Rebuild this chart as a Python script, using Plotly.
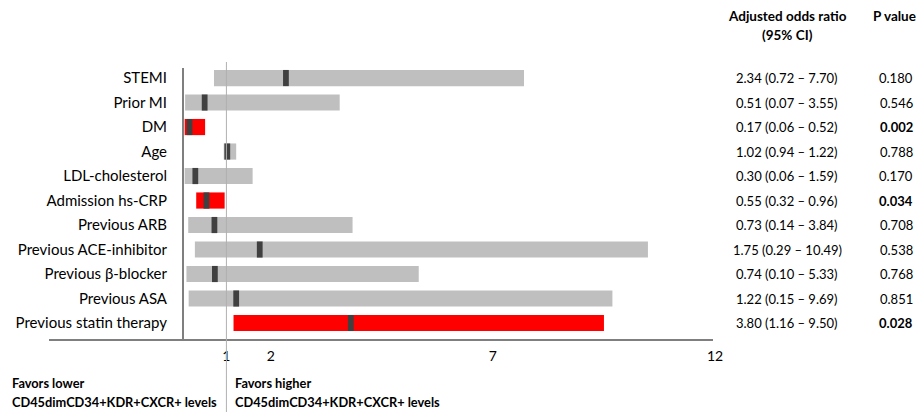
import plotly.graph_objects as go

labels = ["STEMI", "Prior MI", "DM", "Age", "LDL-cholesterol", "Admission hs-CRP",
          "Previous ARB", "Previous ACE-inhibitor", "Previous β-blocker",
          "Previous ASA", "Previous statin therapy"]
odds = [2.34, 0.51, 0.17, 1.02, 0.30, 0.55, 0.73, 1.75, 0.74, 1.22, 3.80]
lower = [0.72, 0.07, 0.06, 0.94, 0.06, 0.32, 0.14, 0.29, 0.10, 0.15, 1.16]
upper = [7.70, 3.55, 0.52, 1.22, 1.59, 0.96, 3.84, 10.49, 5.33, 9.69, 9.50]
pvals = ["0.180", "0.546", "0.002", "0.788", "0.170", "0.034", "0.708", "0.538",
         "0.768", "0.851", "0.028"]
significant = [False, False, True, False, False, True, False, False, False, False, True]
xticks = [1, 2, 7, 12]

W, H = 920, 412
L, R, T, B = 182, 205, 68, 72
PW, PH = W - L - R, H - T - B

def px(x):
    return (x - L) / PW

def py(y):
    return (H - B - y) / PH

FONT = "Lato, Carlito, 'Liberation Sans', sans-serif"
rows = list(range(len(labels)))

fig = go.Figure()
fig.add_trace(go.Bar(
    y=rows, base=lower, x=[u - l for u, l in zip(upper, lower)], orientation="h",
    marker=dict(color=["#ff0000" if s else "#bfbfbf" for s in significant], line=dict(width=0)),
    width=0.66, showlegend=False, hoverinfo="skip"))
mw = 0.13
fig.add_trace(go.Bar(
    y=rows, base=[o - mw / 2 for o in odds], x=[mw] * len(odds), orientation="h",
    marker=dict(color="#404040", line=dict(width=0)),
    width=0.66, showlegend=False, hoverinfo="skip"))

fig.update_layout(
    width=W, height=H, margin=dict(l=L, r=R, t=T, b=B),
    paper_bgcolor="white", plot_bgcolor="white", barmode="overlay",
    font=dict(family=FONT, size=14, color="#000"),
    xaxis=dict(range=[0, 12], tickvals=xticks, ticktext=[str(t) for t in xticks],
               showgrid=False, zeroline=False, showline=False, ticks="",
               tickfont=dict(size=14), ticklabelstandoff=6),
    yaxis=dict(range=[10 + 17 / 24.5, -0.41], tickvals=rows, ticktext=labels,
               showgrid=False, zeroline=False, showline=False, ticks="",
               tickfont=dict(size=15), ticklabelstandoff=14),
)

shapes = []
# left axis line
shapes.append(dict(type="line", xref="paper", yref="paper", x0=px(183), x1=px(183),
                   y0=0, y1=py(68), line=dict(color="#7f7f7f", width=2)))
# bottom axis line
shapes.append(dict(type="line", xref="paper", yref="paper", x0=px(49), x1=px(713),
                   y0=0, y1=0, line=dict(color="#7f7f7f", width=2)))
# reference line at 1
shapes.append(dict(type="line", xref="x", yref="paper", x0=1, x1=1,
                   y0=py(412), y1=py(62), line=dict(color="#b0b0b0", width=1)))
fig.update_layout(shapes=shapes)

ann = []
ann.append(dict(xref="paper", yref="paper", x=px(787), y=py(16), text="<b>Adjusted odds ratio</b>",
                showarrow=False, font=dict(size=13.5), xanchor="center", yanchor="middle"))
ann.append(dict(xref="paper", yref="paper", x=px(787), y=py(35), text="<b>(95% CI)</b>",
                showarrow=False, font=dict(size=13.5), xanchor="center", yanchor="middle"))
ann.append(dict(xref="paper", yref="paper", x=px(894), y=py(16), text="<b>P value</b>",
                showarrow=False, font=dict(size=13.5), xanchor="center", yanchor="middle"))
for i in rows:
    ci = f"{odds[i]:.2f} ({lower[i]:.2f} – {upper[i]:.2f})"
    ann.append(dict(xref="paper", yref="y", x=px(787), y=i, text=ci, showarrow=False,
                    font=dict(size=13), xanchor="center", yanchor="middle"))
    pv = f"<b>{pvals[i]}</b>" if significant[i] else pvals[i]
    ann.append(dict(xref="paper", yref="y", x=px(896), y=i, text=pv, showarrow=False,
                    font=dict(size=13), xanchor="center", yanchor="middle"))
ann.append(dict(xref="paper", yref="paper", x=px(10), y=py(383), text="<b>Favors lower</b>",
                showarrow=False, font=dict(size=12.8), xanchor="left", yanchor="middle"))
ann.append(dict(xref="paper", yref="paper", x=px(10), y=py(402),
                text="<b>CD45dimCD34+KDR+CXCR+ levels</b>",
                showarrow=False, font=dict(size=12.8), xanchor="left", yanchor="middle"))
ann.append(dict(xref="paper", yref="paper", x=px(233), y=py(383), text="<b>Favors higher</b>",
                showarrow=False, font=dict(size=12.8), xanchor="left", yanchor="middle"))
ann.append(dict(xref="paper", yref="paper", x=px(233), y=py(402),
                text="<b>CD45dimCD34+KDR+CXCR+ levels</b>",
                showarrow=False, font=dict(size=12.8), xanchor="left", yanchor="middle"))
fig.update_layout(annotations=ann)

fig.write_html("out.html")
